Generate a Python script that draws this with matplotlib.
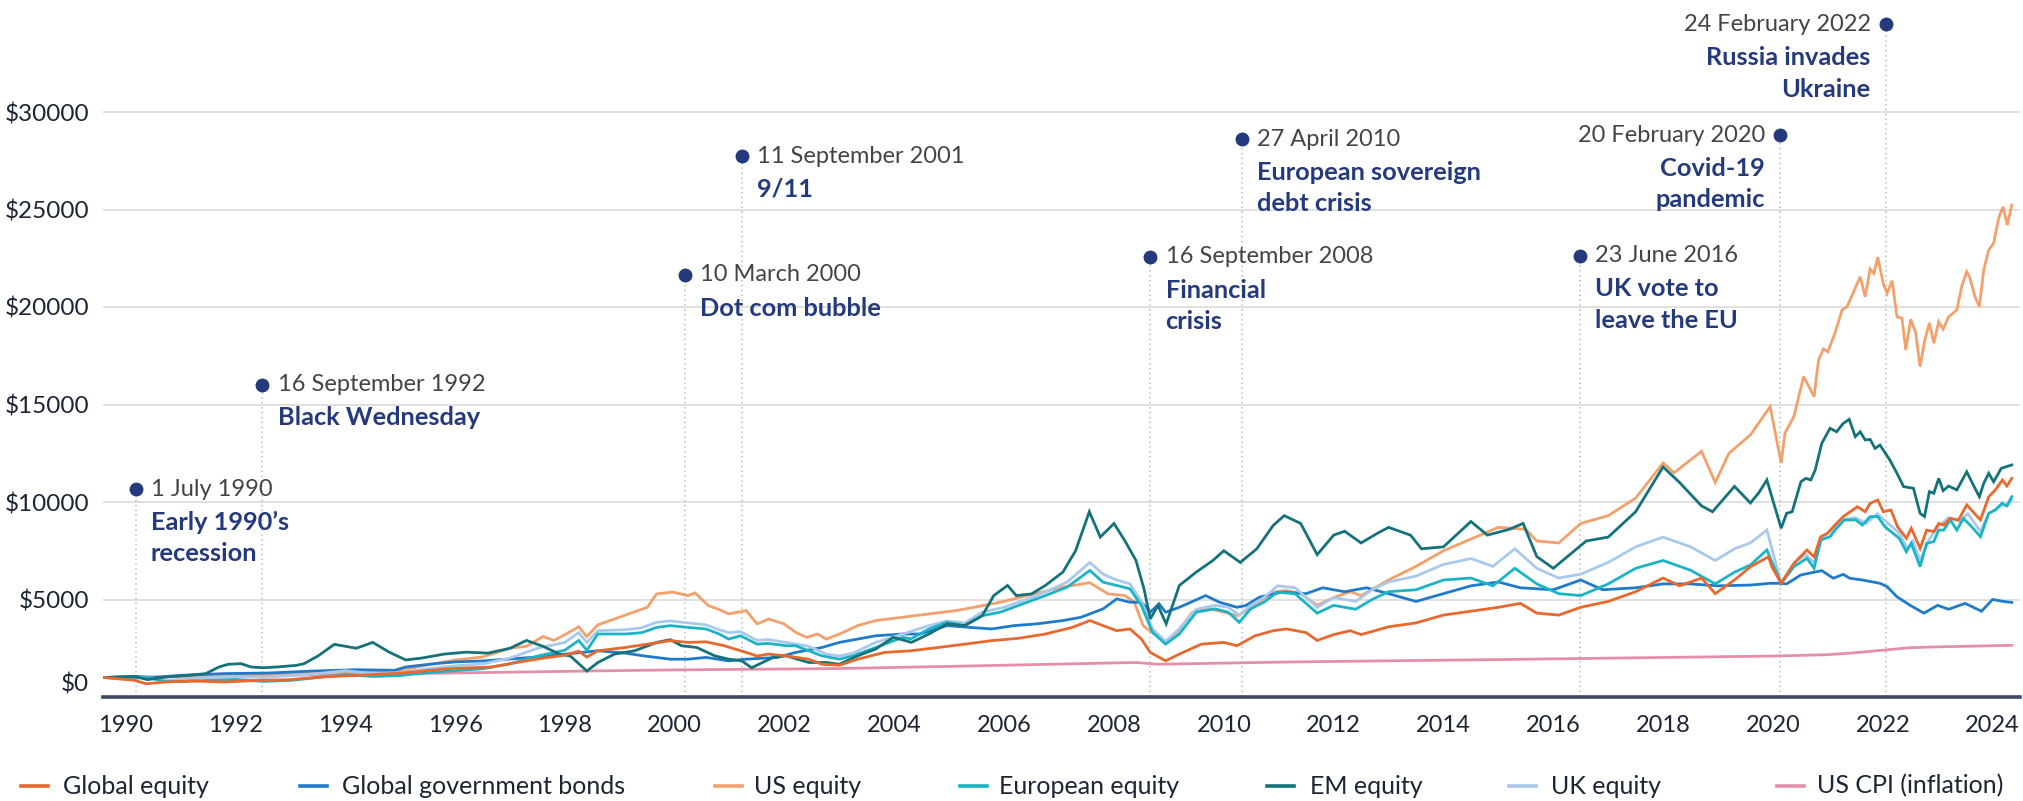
import matplotlib
matplotlib.use("Agg")
import matplotlib.pyplot as plt
from matplotlib.lines import Line2D
from matplotlib.transforms import ScaledTranslation

# ---------------- data ----------------
global_equity_years = [1989.6,1990.16,1990.37,1990.73,1991.22,1991.79,1992.44,1993.0,1993.58,1994.23,1995.04,1995.85,1996.67,1997.0,1997.5,1998.0,1998.25,1998.4,1998.6,1999.1,1999.5,1999.92,2000.24,2000.57,2000.9,2001.3,2001.5,2001.7,2002.03,2002.44,2002.68,2003.0,2003.33,2003.82,2004.3,2004.8,2005.28,2005.77,2006.26,2006.75,2007.24,2007.56,2007.8,2008.05,2008.29,2008.5,2008.66,2008.94,2009.19,2009.59,2010.0,2010.24,2010.57,2010.9,2011.14,2011.5,2011.7,2012.0,2012.3,2012.5,2013.0,2013.5,2014.0,2014.5,2015.0,2015.4,2015.7,2016.1,2016.5,2017.0,2017.5,2018.0,2018.3,2018.7,2018.95,2019.3,2019.59,2019.92,2019.98,2020.15,2020.38,2020.62,2020.75,2020.87,2020.99,2021.13,2021.28,2021.54,2021.68,2021.77,2021.91,2022.01,2022.15,2022.27,2022.43,2022.52,2022.68,2022.8,2022.93,2023.02,2023.11,2023.23,2023.38,2023.53,2023.78,2023.93,2024.05,2024.18,2024.26,2024.35]
global_equity = [1000,855,680,770,820,770,855,890,1030,1110,1230,1450,1540,1710,1950,2150,2350,2050,2370,2540,2710,2890,2800,2830,2630,2285,2100,2200,2110,1940,1680,1630,1940,2285,2370,2540,2710,2890,3010,3230,3570,3920,3660,3400,3490,2970,2285,1855,2200,2710,2800,2630,3140,3400,3490,3300,2900,3200,3400,3200,3600,3800,4200,4400,4600,4800,4300,4200,4600,4900,5400,6100,5700,6100,5300,6000,6680,7190,6680,5830,6850,7540,7190,8220,8390,8820,9250,9760,9500,9930,10100,9500,9590,8730,8140,8650,7620,8560,8480,8900,8820,9160,9080,9850,9080,10270,10620,11130,10820,11210]

bonds_years = [1989.6,1990.2,1990.5,1991.0,1991.8,1992.6,1993.4,1994.2,1994.9,1995.1,1995.6,1996.0,1996.5,1997.0,1997.5,1998.0,1998.6,1999.1,1999.43,1999.92,2000.24,2000.57,2000.98,2001.3,2001.87,2002.2,2002.68,2003.0,2003.33,2003.66,2004.15,2004.47,2004.96,2005.37,2005.77,2006.18,2006.59,2007.07,2007.4,2007.8,2008.05,2008.29,2008.5,2008.66,2008.82,2008.94,2009.19,2009.67,2009.92,2010.24,2010.4,2010.65,2011.06,2011.5,2011.8,2012.2,2012.6,2013.0,2013.5,2014.0,2014.5,2015.0,2015.4,2016.0,2016.5,2016.9,2017.5,2018.0,2018.5,2019.0,2019.59,2019.95,2020.15,2020.25,2020.51,2020.89,2021.1,2021.28,2021.4,2021.63,2021.95,2022.08,2022.26,2022.5,2022.75,2023.0,2023.2,2023.5,2023.8,2024.0,2024.2,2024.35]
bonds = [1000,1050,1000,1110,1200,1230,1330,1400,1370,1540,1700,1800,1850,1950,2050,2200,2370,2250,2110,1940,1940,2030,1855,1940,2030,2285,2540,2800,2970,3140,3230,3230,3660,3570,3490,3660,3750,3920,4090,4520,5030,4860,4860,4350,4780,4350,4600,5200,4860,4600,4690,5120,5380,5300,5600,5400,5600,5300,4900,5300,5700,5900,5600,5500,6000,5500,5600,5800,5800,5700,5740,5830,5830,5800,6260,6480,6090,6290,6090,6000,5830,5660,5140,4700,4300,4700,4500,4800,4400,5000,4900,4850]

us_equity_years = [1989.6,1990.0,1990.3,1990.6,1990.8,1991.0,1991.3,1991.8,1992.0,1992.5,1993.0,1993.5,1994.0,1994.5,1995.0,1995.5,1996.0,1996.5,1997.0,1997.3,1997.6,1997.8,1998.0,1998.25,1998.4,1998.6,1999.0,1999.3,1999.5,1999.67,1999.96,2000.24,2000.37,2000.61,2000.8,2000.98,2001.3,2001.5,2001.71,2001.99,2002.2,2002.4,2002.6,2002.76,2003.0,2003.33,2003.66,2004.15,2004.63,2005.12,2005.45,2005.93,2006.42,2007.07,2007.56,2007.89,2008.2,2008.37,2008.53,2008.94,2009.1,2009.43,2009.76,2010.0,2010.24,2010.49,2010.65,2010.9,2011.14,2011.4,2011.7,2012.0,2012.3,2012.5,2013.0,2013.5,2014.0,2014.5,2015.0,2015.5,2015.7,2016.1,2016.5,2017.0,2017.5,2018.0,2018.2,2018.7,2018.95,2019.2,2019.59,2019.95,2020.15,2020.22,2020.38,2020.56,2020.75,2020.83,2020.92,2021.0,2021.13,2021.26,2021.35,2021.59,2021.68,2021.77,2021.84,2021.91,2022.01,2022.08,2022.17,2022.26,2022.35,2022.42,2022.51,2022.6,2022.68,2022.76,2022.85,2022.93,2023.02,2023.1,2023.2,2023.35,2023.44,2023.53,2023.59,2023.68,2023.76,2023.84,2023.93,2024.02,2024.11,2024.19,2024.27,2024.35]
us_equity = [1000,950,1000,980,850,900,1050,1050,1150,1100,1200,1250,1300,1250,1350,1650,1900,2050,2500,2600,3100,2900,3200,3600,3100,3700,4100,4400,4600,5290,5380,5200,5340,4690,4500,4260,4430,3750,4000,3750,3320,3060,3230,2970,3230,3660,3920,4090,4260,4430,4600,4860,5200,5640,5860,5290,5200,4860,3660,2800,3140,4350,4520,4350,4170,4520,4860,5380,5460,5300,4700,5100,5400,5200,6000,6700,7500,8100,8700,8600,8000,7900,8900,9300,10200,12000,11500,12600,11000,12500,13440,14890,12000,13540,14370,16430,15400,17280,17850,17700,18660,19850,20010,21550,20530,21950,21720,22550,21210,20700,21350,19500,19420,17800,19370,18680,16940,18220,19190,18140,19250,18860,19500,19850,21080,21810,21470,20530,20010,21900,22920,23270,24550,25140,24200,25230]

european_equity_years = [1989.6,1990.0,1990.4,1990.7,1991.0,1991.5,1992.0,1992.5,1993.0,1993.5,1994.0,1994.5,1995.0,1995.5,1996.0,1996.5,1997.0,1997.5,1998.0,1998.25,1998.4,1998.6,1999.1,1999.4,1999.67,1999.92,2000.24,2000.57,2000.81,2000.98,2001.2,2001.5,2001.7,2002.03,2002.2,2002.44,2002.68,2003.0,2003.25,2003.66,2004.15,2004.3,2004.63,2004.96,2005.28,2005.6,2005.93,2006.42,2006.75,2007.15,2007.56,2007.8,2008.05,2008.29,2008.5,2008.7,2008.94,2009.19,2009.5,2009.84,2010.08,2010.28,2010.49,2010.73,2010.98,2011.3,2011.7,2012.0,2012.4,2012.7,2013.0,2013.5,2014.0,2014.5,2014.9,2015.3,2015.7,2016.1,2016.5,2017.0,2017.5,2018.0,2018.5,2018.95,2019.3,2019.59,2019.89,2019.98,2020.15,2020.38,2020.62,2020.75,2020.87,2021.04,2021.13,2021.3,2021.51,2021.63,2021.77,2021.91,2022.04,2022.19,2022.3,2022.43,2022.52,2022.68,2022.8,2022.93,2023.02,2023.11,2023.23,2023.35,2023.47,2023.62,2023.78,2023.93,2024.05,2024.17,2024.26,2024.35]
european_equity = [1000,950,1000,800,800,850,900,800,850,1000,1150,1050,1100,1250,1350,1450,1700,2100,2400,2900,2400,3230,3230,3300,3570,3660,3570,3490,3230,2970,3140,2710,2750,2630,2630,2370,2110,1940,2110,2540,3060,2980,3490,3830,3660,4170,4350,4860,5200,5640,6490,5890,5720,5550,4690,3320,2710,3230,4350,4520,4350,3830,4520,4860,5380,5290,4300,4700,4500,5000,5400,5500,6000,6100,5700,6600,5800,5300,5200,5800,6600,7000,6500,5800,6400,6770,7540,6940,5830,6680,7110,6600,8050,8220,8560,9080,9080,8820,9250,9250,8730,8390,8140,7450,7880,6680,7880,7970,8560,8560,9080,8560,9160,8730,8220,9420,9590,9930,9800,10270]

em_equity_years = [1989.6,1990.16,1990.4,1990.73,1991.14,1991.46,1991.7,1991.87,1992.1,1992.28,1992.5,1992.76,1993.1,1993.25,1993.5,1993.8,1994.0,1994.2,1994.5,1994.8,1995.1,1995.4,1995.8,1996.2,1996.6,1997.0,1997.3,1997.6,1997.9,1998.1,1998.4,1998.6,1998.9,1999.27,1999.67,1999.92,2000.12,2000.4,2000.73,2000.98,2001.22,2001.4,2001.79,2002.03,2002.44,2002.76,2003.0,2003.33,2003.66,2003.98,2004.31,2004.63,2004.96,2005.28,2005.6,2005.81,2006.06,2006.22,2006.5,2006.75,2007.07,2007.3,2007.55,2007.75,2008.0,2008.2,2008.4,2008.55,2008.66,2008.8,2008.95,2009.19,2009.5,2009.8,2010.0,2010.3,2010.6,2010.9,2011.1,2011.4,2011.7,2012.0,2012.2,2012.5,2012.8,2013.0,2013.4,2013.6,2014.0,2014.5,2014.8,2015.2,2015.45,2015.7,2016.0,2016.3,2016.6,2017.0,2017.5,2018.0,2018.3,2018.7,2018.9,2019.3,2019.59,2019.74,2019.89,2019.98,2020.15,2020.25,2020.35,2020.51,2020.6,2020.69,2020.77,2020.89,2021.04,2021.16,2021.28,2021.39,2021.5,2021.59,2021.68,2021.77,2021.86,2021.95,2022.13,2022.26,2022.38,2022.56,2022.68,2022.76,2022.85,2022.93,2023.02,2023.1,2023.2,2023.35,2023.53,2023.65,2023.76,2023.84,2023.93,2024.02,2024.16,2024.35]
em_equity = [1000,1060,890,1030,1110,1200,1540,1680,1710,1540,1500,1540,1620,1710,2100,2700,2600,2500,2800,2300,1900,2000,2200,2300,2250,2500,2900,2600,2200,2100,1330,1770,2200,2370,2800,2940,2630,2540,2110,1940,1855,1500,2030,2110,1770,1770,1680,2110,2460,3060,2800,3230,3750,3660,4170,5200,5720,5200,5290,5720,6410,7500,9500,8200,8900,8000,7000,5500,4000,4690,3750,5720,6410,7000,7500,6900,7600,8800,9300,8900,7300,8300,8500,7900,8400,8700,8300,7600,7700,9000,8300,8600,8900,7200,6600,7300,8000,8200,9500,11800,11000,9800,9500,10800,9950,10460,11130,10270,8650,9420,9500,11040,11210,11130,11640,13010,13780,13600,14030,14240,13350,13600,13180,13210,12750,12920,12150,11470,10790,10700,9420,9250,10530,10450,11210,10580,10820,10620,11550,10870,10270,10960,11470,11040,11730,11900]

uk_equity_years = [1989.6,1990.0,1990.4,1990.7,1991.0,1991.5,1992.0,1992.5,1993.0,1993.5,1994.0,1994.5,1995.0,1995.5,1996.0,1996.5,1997.0,1997.5,1998.0,1998.25,1998.4,1998.6,1999.1,1999.4,1999.67,1999.92,2000.24,2000.57,2000.81,2000.98,2001.2,2001.5,2001.7,2002.03,2002.44,2002.76,2003.0,2003.25,2003.66,2004.15,2004.63,2004.96,2005.28,2005.6,2006.0,2006.5,2006.75,2007.15,2007.56,2007.8,2008.05,2008.29,2008.5,2008.7,2008.94,2009.19,2009.5,2009.84,2010.08,2010.28,2010.49,2010.73,2010.98,2011.3,2011.7,2012.0,2012.4,2012.7,2013.0,2013.5,2014.0,2014.5,2014.9,2015.3,2015.7,2016.1,2016.5,2017.0,2017.5,2018.0,2018.5,2018.95,2019.3,2019.59,2019.89,2020.15,2020.4,2020.6,2020.75,2020.9,2021.1,2021.3,2021.5,2021.7,2021.9,2022.1,2022.3,2022.45,2022.55,2022.68,2022.85,2023.0,2023.2,2023.4,2023.55,2023.78,2023.93,2024.1,2024.2,2024.27,2024.35]
uk_equity = [1000,1000,1000,850,900,1000,1050,1000,1100,1200,1350,1200,1250,1450,1600,1700,2000,2500,2800,3300,2800,3400,3450,3550,3830,3900,3800,3700,3450,3300,3350,2900,2950,2800,2600,2200,2100,2250,2800,3230,3660,3900,3800,4350,4600,5100,5380,5900,6900,6300,6000,5800,4900,3500,2850,3500,4500,4700,4600,4200,4700,5100,5700,5600,4600,5100,4900,5500,5900,6200,6800,7100,6700,7600,6600,6100,6300,6900,7700,8200,7700,7000,7600,7900,8560,5830,6900,7300,6900,8200,8600,9100,9200,8900,9400,8900,8400,7600,8000,7000,8100,8700,9200,9000,9400,8500,9400,9700,9900,9800,10100]

us_cpi_years = [1989.6,1995.0,1998.6,2000.0,2003.0,2005.0,2008.4,2008.8,2011.3,2015.0,2020.0,2021.0,2021.5,2022.0,2022.5,2023.0,2024.35]
us_cpi = [1000,1190,1340,1390,1460,1570,1770,1680,1800,1920,2100,2170,2270,2400,2530,2570,2650]

series_labels = ["Global equity", "Global government bonds", "US equity", "European equity",
                 "EM equity", "UK equity", "US CPI (inflation)"]

event_dates = ["1 July 1990", "16 September 1992", "10 March 2000", "11 September 2001",
               "16 September 2008", "27 April 2010", "23 June 2016", "20 February 2020",
               "24 February 2022"]
event_titles = ["Early 1990\u2019s\nrecession", "Black Wednesday", "Dot com bubble", "9/11",
                "Financial\ncrisis", "European sovereign\ndebt crisis", "UK vote to\nleave the EU",
                "Covid-19\npandemic", "Russia invades\nUkraine"]
event_x = [1990.18, 1992.49, 2000.19, 2001.22, 2008.66, 2010.33, 2016.49, 2020.13, 2022.06]
event_y = [10660, 16020, 21650, 27740, 22570, 28600, 22640, 28800, 34490]

y_ticks = [0, 5000, 10000, 15000, 20000, 25000, 30000]
x_ticks = list(range(1990, 2025, 2))

# ---------------- style ----------------
colors = ["#E8682E", "#1F7BC9", "#F2A06C", "#1BB4C6", "#14727A", "#A9C9EC", "#E58FA6"]
navy = "#243A7C"
FONT = "Lato"

W, H = 2024, 801
fig = plt.figure(figsize=(W / 100, H / 100), dpi=100)
ax_left, ax_right, ax_bottom_px = 103, 2020, 697
ax = fig.add_axes([ax_left / W, 1 - ax_bottom_px / H, (ax_right - ax_left) / W, ax_bottom_px / H])
ax.set_xlim(1989.587, 2024.50)
ax.set_ylim(0, 30000 * 697 / 585)

for s in ["top", "right", "left"]:
    ax.spines[s].set_visible(False)
ax.spines["bottom"].set_color("#3B4A5E")
ax.spines["bottom"].set_linewidth(2.6)
ax.spines["bottom"].set_zorder(6)

ax.set_yticks(y_ticks)
ax.set_yticklabels([f"${v}" for v in y_ticks], fontfamily=FONT, fontsize=17.5, color="#1B2533")
ax.tick_params(axis="y", length=0, pad=10)
ax.yaxis.grid(True, color="#DDDDDD", linewidth=1.3)
ax.set_axisbelow(True)
lbl0 = ax.get_yticklabels()[0]
lbl0.set_transform(lbl0.get_transform() + ScaledTranslation(0, 0.14, fig.dpi_scale_trans))

ax.set_xticks(x_ticks)
ax.set_xticklabels([str(v) for v in x_ticks], fontfamily=FONT, fontsize=17, color="#1B2533")
ax.tick_params(axis="x", length=0, pad=13)

# event guide lines
for xv, yv in zip(event_x, event_y):
    ax.plot([xv, xv], [0, yv], color="#BBBBBB", linewidth=1.1, linestyle=(0, (1, 2.2)), zorder=1)

all_series = [
    (global_equity_years, global_equity),
    (bonds_years, bonds),
    (us_equity_years, us_equity),
    (european_equity_years, european_equity),
    (em_equity_years, em_equity),
    (uk_equity_years, uk_equity),
    (us_cpi_years, us_cpi),
]
zorders = [5, 3.5, 3, 4, 4.5, 3.8, 2.5]
for (xs, ys), c, z in zip(all_series, colors, zorders):
    ax.plot(xs, ys, color=c, linewidth=2.0, zorder=z, solid_joinstyle="miter")

for i, (xv, yv) in enumerate(zip(event_x, event_y)):
    ax.plot([xv], [yv], marker="o", markersize=9, color=navy, zorder=7, clip_on=False)
    right = i >= 7
    ha = "right" if right else "left"
    dx = -11 if right else 11
    ax.annotate(event_dates[i], (xv, yv), xytext=(dx, 0), textcoords="offset points",
                ha=ha, va="center", fontsize=17, fontfamily=FONT, fontweight="normal",
                color="#444444", zorder=8, annotation_clip=False)
    for j, line in enumerate(event_titles[i].split("\n")):
        ax.annotate(line, (xv, yv), xytext=(dx, -24 - 22.5 * j), textcoords="offset points",
                    ha=ha, va="center", fontsize=18.3, fontfamily=FONT, fontweight="bold",
                    color=navy, zorder=8, annotation_clip=False)

# legend
leg_marker_start = [21, 300, 715, 960, 1267, 1509, 1777]
leg_text_start = [63, 342, 754, 999, 1310, 1551, 1817]
leg_y = 1 - 786 / H
for lab, c, m0, t0 in zip(series_labels, colors, leg_marker_start, leg_text_start):
    fig.add_artist(Line2D([m0 / W, (m0 + 27) / W], [leg_y, leg_y], color=c, linewidth=2.6,
                          transform=fig.transFigure))
    fig.text(t0 / W, leg_y, lab, ha="left", va="center", fontsize=18, fontfamily=FONT,
             color="#1B2533")

fig.savefig("out.png", dpi=100)
